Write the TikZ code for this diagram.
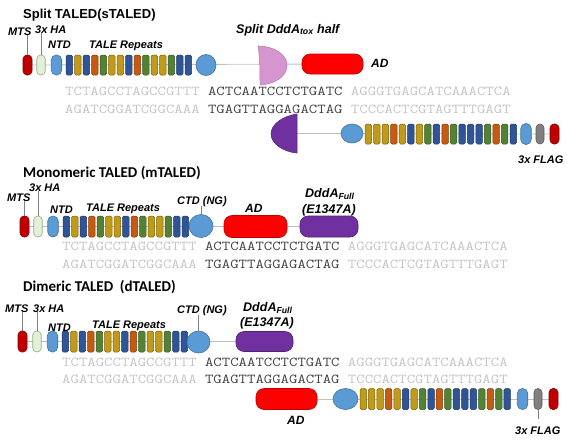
\documentclass[tikz,border=0pt]{standalone}
\usepackage{fontspec}
\setmainfont{Liberation Sans}
\newfontfamily\monof[FakeStretch=1.2]{Latin Modern Mono}
\newfontfamily\titf{Carlito}
\usetikzlibrary{shapes.geometric,backgrounds}
\definecolor{tB}{HTML}{2F5597}\definecolor{tBd}{HTML}{1F3864}
\definecolor{tY}{HTML}{C09A1A}\definecolor{tYd}{HTML}{7F6000}
\definecolor{tO}{HTML}{C55A11}\definecolor{tOd}{HTML}{843C0C}
\definecolor{tG}{HTML}{548235}\definecolor{tGd}{HTML}{385723}
\definecolor{mtsr}{HTML}{C00000}\definecolor{mtsrd}{HTML}{7F0000}
\definecolor{hag}{HTML}{E2F0D9}\definecolor{hagd}{HTML}{8FAF7F}
\definecolor{nb}{HTML}{5B9BD5}\definecolor{nbd}{HTML}{41719C}
\definecolor{adr}{HTML}{FF0000}\definecolor{adrd}{HTML}{C00000}
\definecolor{pur}{HTML}{7030A0}\definecolor{purd}{HTML}{4E2272}
\definecolor{pnk}{HTML}{D596CF}\definecolor{pnkd}{HTML}{B877B2}
\definecolor{fg}{HTML}{808080}\definecolor{fgd}{HTML}{595959}
\definecolor{bbg}{HTML}{BFBFBF}
\definecolor{dnal}{HTML}{C4C4C4}\definecolor{dnad}{HTML}{404040}
\tikzset{
 pill/.style={rectangle, rounded corners=4pt, minimum height=20pt, inner sep=0pt, line width=0.6pt},
 mtsp/.style={pill, minimum width=9pt, fill=mtsr, draw=mtsrd},
 hap/.style={pill, minimum width=8.5pt, fill=hag, draw=hagd},
 ntdp/.style={pill, minimum width=10.5pt, rounded corners=5pt, fill=nb, draw=nbd},
 flagp/.style={pill, minimum width=8pt, fill=fg, draw=fgd},
 ctde/.style={ellipse, inner sep=0pt, fill=nb, draw=nbd, line width=0.6pt},
 rep/.style={rectangle, rounded corners=1.5pt, minimum width=6.5pt, minimum height=20pt, inner sep=0pt, line width=0.5pt},
 adbar/.style={rectangle, rounded corners=8pt, fill=adr, draw=adrd, inner sep=0pt, line width=0.6pt},
 ddbar/.style={rectangle, rounded corners=8pt, fill=pur, draw=purd, inner sep=0pt, line width=0.6pt},
 lbl/.style={font=\fontsize{11}{13}\selectfont\bfseries\itshape, inner sep=0pt, anchor=base west},
 blbl/.style={font=\fontsize{12.5}{14}\selectfont\bfseries\itshape, inner sep=0pt, anchor=base west},
 ttl/.style={font=\titf\fontsize{15}{17}\selectfont\bfseries, inner sep=0pt, anchor=base west},
 dna/.style={font=\monof\fontsize{13.6}{15}\selectfont, inner sep=0pt, anchor=base west},
 bb/.style={draw=bbg, line width=0.8pt},
 tick/.style={draw=fg, line width=0.5pt},
 ghost/.style={rectangle, inner sep=0pt, draw=none},
}
\begin{document}
\begin{tikzpicture}[x=1pt,y=-1pt]
\useasboundingbox (0,0) rectangle (567,439);
% ================= Section 1: sTALED =================
\node[font=\fontsize{13}{15}\selectfont\bfseries, inner sep=0pt, anchor=base west] (t1) at (23,18) {Split TALED(sTALED)};
\node[mtsp] (mts1) at (27.5,65) {};
\node[hap] (ha1) at (41,65) {};
\node[ntdp] (ntd1) at (56.5,65) {};
\foreach \c [count=\i] in {B,Y,B,O,G,Y,Y,B,O,G,Y,Y,G,B,B}
  \node[rep, fill=t\c, draw=t\c d] (a\i) at ({69.25+(\i-1)*8.5},65) {};
\node[ctde, minimum width=20pt, minimum height=21pt] (ctd1) at (206,65) {};
\node[ghost, minimum width=29pt, minimum height=39pt] (dA) at (272.5,65.5) {};
\fill[pnk, draw=pnkd, line width=0.5pt] (258,46) .. controls (273,46) and (287,54) .. (287,65) .. controls (287,76) and (276,84) .. (260,85) .. controls (260,72) and (260,58) .. cycle;
\node[adbar, minimum width=61pt, minimum height=20pt] (ad1) at (332.5,64) {};
\node[lbl] (lmts1) at (8,35) {MTS};
\node[lbl] (lha1) at (35,33) {3x HA};
\node[lbl] (lntd1) at (48,48) {NTD};
\node[lbl] (ltr1) at (89,48) {TALE Repeats};
\node[blbl] (ldA) at (236,33) {Split DddA\textsubscript{tox} half};
\node[lbl, font=\fontsize{12}{14}\selectfont\bfseries\itshape] (lad1) at (371,67.5) {AD};
\node[dna] (s1a) at (65,95) {\color{dnal}TCTAGCCTAGCCGTTT \color{dnad}ACTCAATCCTCTGATC \color{dnal}AGGGTGAGCATCAAACTCA};
\node[dna] (s1b) at (65,113) {\color{dnal}AGATCGGATCGGCAAA \color{dnad}TGAGTTAGGAGACTAG \color{dnal}TCCCACTCGTAGTTTGAGT};
% reverse half
\node[ghost, minimum width=27pt, minimum height=40pt] (dB) at (284,133.5) {};
\fill[pur, draw=purd, line width=0.5pt] (297,114) .. controls (283,116) and (271,124) .. (271,134) .. controls (271,144) and (284,152) .. (297,153) -- cycle;
\node[ctde, minimum width=22pt, minimum height=19pt] (ctd1b) at (352,133.5) {};
\foreach \c [count=\i] in {Y,Y,Y,O,Y,B,Y,G,B,O,G,B,B,B,G,O,G,B}
  \node[rep, fill=t\c, draw=t\c d] (b\i) at ({368.25+(\i-1)*8.53},134) {};
\node[ntdp, minimum height=21pt] (ntd1b) at (526,134) {};
\node[flagp] (fl1) at (540,134) {};
\node[mtsp] (mts1b) at (554.5,134) {};
\node[lbl] (lfl1) at (518,163) {3x FLAG};
% ================= Section 2: mTALED =================
\node[ttl] (t2) at (23,177) {Monomeric TALED (mTALED)};
\node[mtsp, minimum height=21pt] (mts2) at (24.5,226.5) {};
\node[hap, minimum height=21pt] (ha2) at (38,226.5) {};
\node[ntdp, minimum height=21pt] (ntd2) at (53,226.5) {};
\foreach \c [count=\i] in {B,Y,B,O,G,Y,Y,B,O,G,Y,Y,G,B,B}
  \node[rep, fill=t\c, draw=t\c d, minimum height=21pt] (m\i) at ({66.25+(\i-1)*8.5},226.5) {};
\node[ctde, minimum width=24pt, minimum height=23pt] (ctd2) at (201,226) {};
\node[adbar, minimum width=63pt, minimum height=22pt] (ad2) at (255.5,226.5) {};
\node[ddbar, minimum width=58pt, minimum height=21pt] (dd2) at (329,226.5) {};
\node[lbl] (lmts2) at (7,201) {MTS};
\node[lbl] (lha2) at (29,191) {3x HA};
\node[lbl] (lntd2) at (50,213) {NTD};
\node[lbl] (ltr2) at (86,211) {TALE Repeats};
\node[lbl] (lctd2) at (177,204) {CTD (NG)};
\node[lbl, font=\fontsize{12}{14}\selectfont\bfseries\itshape] (lad2) at (245,212) {AD};
\node[blbl] (ldd2a) at (305,197) {DddA\textsubscript{Full}};
\node[blbl] (ldd2b) at (302,213) {(E1347A)};
\node[dna] (s2a) at (62,250) {\color{dnal}TCTAGCCTAGCCGTTT \color{dnad}ACTCAATCCTCTGATC \color{dnal}AGGGTGAGCATCAAACTCA};
\node[dna] (s2b) at (62,268) {\color{dnal}AGATCGGATCGGCAAA \color{dnad}TGAGTTAGGAGACTAG \color{dnal}TCCCACTCGTAGTTTGAGT};
% ================= Section 3: dTALED =================
\node[ttl] (t3) at (23,291) {Dimeric TALED\ \ (dTALED)};
\node[mtsp, minimum height=21pt] (mts3) at (22.5,341.5) {};
\node[hap, minimum height=21pt] (ha3) at (37,341.5) {};
\node[ntdp, minimum height=21pt] (ntd3) at (52.5,341.5) {};
\foreach \c [count=\i] in {B,Y,B,O,G,Y,Y,B,O,G,Y,Y,G,B,B}
  \node[rep, fill=t\c, draw=t\c d, minimum height=21pt] (d\i) at ({65.25+(\i-1)*8.5},341.5) {};
\node[ctde, minimum width=23pt, minimum height=22pt] (ctd3) at (198.5,342) {};
\node[ddbar, minimum width=57pt, minimum height=20pt] (dd3) at (264.5,341.5) {};
\node[lbl] (lmts3) at (5,312) {MTS};
\node[lbl] (lha3) at (33,312) {3x HA};
\node[lbl] (lntd3) at (48,331) {NTD};
\node[lbl] (ltr3) at (92,328) {TALE Repeats};
\node[lbl] (lctd3) at (177,313) {CTD (NG)};
\node[blbl] (ldd3a) at (243,311) {DddA\textsubscript{Full}};
\node[blbl] (ldd3b) at (240,326) {(E1347A)};
\node[dna] (s3a) at (62,366) {\color{dnal}TCTAGCCTAGCCGTTT \color{dnad}ACTCAATCCTCTGATC \color{dnal}AGGGTGAGCATCAAACTCA};
\node[dna] (s3b) at (62,383) {\color{dnal}AGATCGGATCGGCAAA \color{dnad}TGAGTTAGGAGACTAG \color{dnal}TCCCACTCGTAGTTTGAGT};
\node[adbar, minimum width=61pt, minimum height=21pt] (ad3) at (286.5,399) {};
\node[ctde, minimum width=25pt, minimum height=21pt] (ctd3b) at (345.5,399) {};
\foreach \c [count=\i] in {Y,Y,Y,O,Y,B,Y,G,B,O,G,B,B,B,G,O,G,B}
  \node[rep, fill=t\c, draw=t\c d, minimum height=21pt] (e\i) at ({363.25+(\i-1)*8.47},399) {};
\node[ntdp, minimum height=21pt] (ntd3b) at (522.5,399) {};
\node[flagp, minimum height=21pt] (fl3) at (538,399) {};
\node[mtsp, minimum height=21pt] (mts3b) at (553.5,399) {};
\node[lbl, font=\fontsize{12}{14}\selectfont\bfseries\itshape] (lad3) at (287,424) {AD};
\node[lbl] (lfl3) at (515,434) {3x FLAG};
% ================= backbones and ticks =================
\begin{scope}[on background layer]
\draw[bb] (mts1.center) -- (ad1.center);
\draw[bb] (dB.center) -- (mts1b.center);
\draw[bb] (mts2.center) -- (dd2.center);
\draw[bb] (mts3.center) -- (dd3.center);
\draw[bb] (ad3.center) -- (mts3b.center);
\end{scope}
\draw[tick] (mts1.north) -- (mts1.north |- lmts1.south);
\draw[tick] (ha1.north) -- (ha1.north |- lha1.south);
\draw[tick] (mts2.north) -- (mts2.north |- lmts2.south);
\draw[tick] (ha2.north) -- (ha2.north |- lha2.south);
\draw[tick] (ctd2.north) -- (ctd2.north |- lctd2.south);
\draw[tick] (mts3.north) -- (mts3.north |- lmts3.south);
\draw[tick] (ha3.north) -- (ha3.north |- lha3.south);
\draw[tick] (ctd3.north) -- (ctd3.north |- lctd3.south);
\draw[tick, shorten >=7pt] (fl3.south) -- (fl3.south |- lfl3.north);
\end{tikzpicture}
\end{document}
